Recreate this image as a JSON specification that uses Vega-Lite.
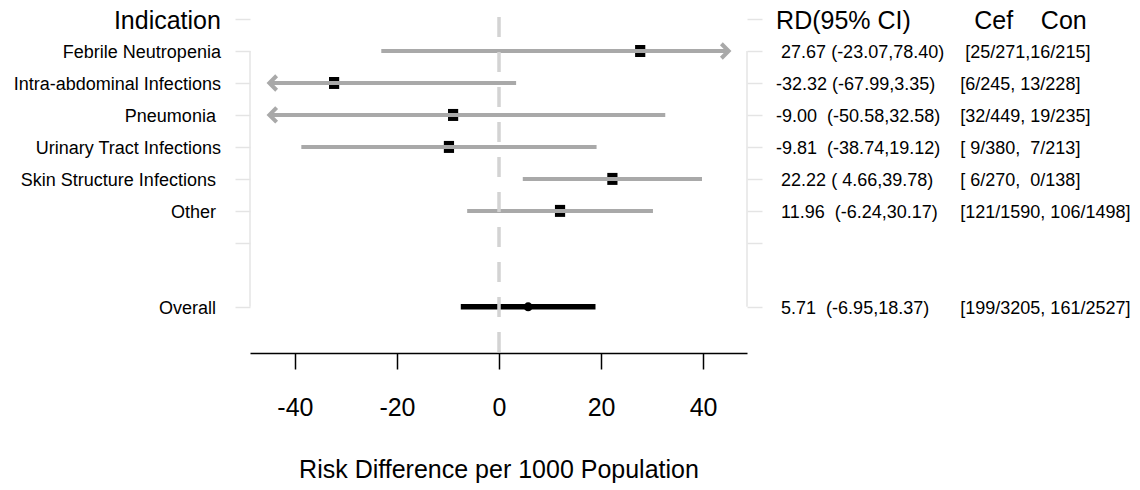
{
  "$schema": "https://vega.github.io/schema/vega-lite/v6.json",
  "width": 497,
  "height": 336,
  "autosize": {"type": "none"},
  "padding": {"left": 250, "top": 17, "right": 393, "bottom": 137},
  "background": "white",
  "config": {
    "view": {"stroke": null},
    "font": "Liberation Sans",
    "text": {"font": "Liberation Sans", "color": "black", "dy": 2}
  },
  "datasets": {
    "rows": [
      {"row": 1, "label": "Indication", "rd": null, "lo": null, "hi": null, "rdText": "RD(95% CI)", "counts": "\u200b\u00a0\u00a0Cef\u00a0\u00a0\u00a0\u00a0Con"},
      {"row": 2, "label": "Febrile Neutropenia", "rd": 27.67, "lo": -23.07, "hi": 78.40, "rdText": "\u200b\u00a027.67 (-23.07,78.40)", "counts": "\u200b\u00a0[25/271,16/215]"},
      {"row": 3, "label": "Intra-abdominal Infections", "rd": -32.32, "lo": -67.99, "hi": 3.35, "rdText": "-32.32 (-67.99,3.35)", "counts": "[6/245, 13/228]"},
      {"row": 4, "label": "Pneumonia\u00a0\u200b", "rd": -9.00, "lo": -50.58, "hi": 32.58, "rdText": "-9.00\u00a0\u00a0(-50.58,32.58)", "counts": "[32/449, 19/235]"},
      {"row": 5, "label": "Urinary Tract Infections", "rd": -9.81, "lo": -38.74, "hi": 19.12, "rdText": "-9.81\u00a0\u00a0(-38.74,19.12)", "counts": "[\u00a09/380,\u00a0\u00a07/213]"},
      {"row": 6, "label": "Skin Structure Infections\u00a0\u200b", "rd": 22.22, "lo": 4.66, "hi": 39.78, "rdText": "\u200b\u00a022.22 (\u00a04.66,39.78)", "counts": "[\u00a06/270,\u00a0\u00a00/138]"},
      {"row": 7, "label": "Other\u00a0\u200b", "rd": 11.96, "lo": -6.24, "hi": 30.17, "rdText": "\u200b\u00a011.96\u00a0\u00a0(-6.24,30.17)", "counts": "[121/1590, 106/1498]"},
      {"row": 10, "label": "Overall\u00a0\u200b", "rd": 5.71, "lo": -6.95, "hi": 18.37, "rdText": "\u200b\u00a05.71\u00a0\u00a0(-6.95,18.37)", "counts": "[199/3205, 161/2527]"}
    ]
  },
  "layer": [
    {
      "data": {"name": "rows"},
      "layer": [
        {
          "transform": [{"filter": "datum.rd != null && datum.row < 10"}],
          "mark": {"type": "point", "shape": "M-0.85,-1H0.85V1H-0.85Z", "filled": true, "color": "black", "opacity": 1, "size": 144},
          "encoding": {
            "x": {"field": "rd", "type": "quantitative", "scale": {"domain": [-48.8, 48.6], "nice": false, "zero": false},
              "axis": {"values": [-40, -20, 0, 20, 40], "labelExpr": "datum.value < 0 ? '-' + abs(datum.value) : '' + datum.value", "domainColor": "black", "domainWidth": 1.5, "tickColor": "black", "tickWidth": 1.5, "tickSize": 16, "labelFont": "Liberation Sans", "labelFontSize": 25, "labelPadding": 26, "labelColor": "black", "grid": false, "titleFont": "Liberation Sans", "titleFontSize": 25, "titleFontWeight": "normal", "titleColor": "black", "titlePadding": 37},
              "title": "Risk Difference per 1000 Population"},
            "y": {"field": "row", "type": "quantitative", "scale": {"domain": [0.937, 11.444], "reverse": true, "nice": false, "zero": false},
              "axis": {"orient": "left", "values": [1, 2, 3, 4, 5, 6, 7, 8, 10], "labels": false, "domain": false, "tickSize": 15, "tickColor": "#e4e4e4", "tickWidth": 1.5, "grid": false},
              "title": null}
          }
        },
        {
          "transform": [
            {"filter": "datum.rd != null && datum.row < 10"},
            {"calculate": "max(datum.lo, -45)", "as": "loShown"},
            {"calculate": "min(datum.hi, 45)", "as": "hiShown"}
          ],
          "mark": {"type": "rule", "color": "#a9a9a9", "strokeWidth": 4, "strokeCap": "butt"},
          "encoding": {
            "x": {"field": "loShown", "type": "quantitative", "title": "Risk Difference per 1000 Population"},
            "x2": {"field": "hiShown"},
            "y": {"field": "row", "type": "quantitative", "title": null}
          }
        },
        {
          "transform": [{"filter": "datum.rd != null && datum.hi > 45"}],
          "mark": {"type": "point", "shape": "M-1,-1L0,0L-1,1", "filled": false, "color": "#a9a9a9", "strokeWidth": 4, "opacity": 1, "size": 210},
          "encoding": {
            "x": {"datum": 45},
            "y": {"field": "row", "type": "quantitative", "title": null}
          }
        },
        {
          "transform": [{"filter": "datum.rd != null && datum.lo < -45"}],
          "mark": {"type": "point", "shape": "M1,-1L0,0L1,1", "filled": false, "color": "#a9a9a9", "strokeWidth": 4, "opacity": 1, "size": 210},
          "encoding": {
            "x": {"datum": -45},
            "y": {"field": "row", "type": "quantitative", "title": null}
          }
        },
        {
          "transform": [{"filter": "datum.row == 10"}],
          "mark": {"type": "rule", "color": "black", "strokeWidth": 5.5, "strokeCap": "square"},
          "encoding": {
            "x": {"field": "lo", "type": "quantitative", "title": "Risk Difference per 1000 Population"},
            "x2": {"field": "hi"},
            "y": {"field": "row", "type": "quantitative", "title": null}
          }
        },
        {
          "transform": [{"filter": "datum.row == 10"}],
          "mark": {"type": "point", "shape": "circle", "filled": true, "color": "black", "opacity": 1, "size": 80},
          "encoding": {
            "x": {"field": "rd", "type": "quantitative", "title": "Risk Difference per 1000 Population"},
            "y": {"field": "row", "type": "quantitative", "title": null}
          }
        },
        {
          "mark": {"type": "text", "align": "right", "baseline": "middle"},
          "encoding": {
            "x": {"datum": -54.5},
            "y": {"field": "row", "type": "quantitative", "title": null},
            "text": {"field": "label"},
            "size": {"condition": {"test": "datum.row == 1", "value": 25}, "value": 18}
          }
        },
        {
          "mark": {"type": "text", "align": "left", "baseline": "middle"},
          "encoding": {
            "x": {"datum": 54.3},
            "y": {"field": "row", "type": "quantitative", "title": null},
            "text": {"field": "rdText"},
            "size": {"condition": {"test": "datum.row == 1", "value": 25}, "value": 18}
          }
        },
        {
          "mark": {"type": "text", "align": "left", "baseline": "middle"},
          "encoding": {
            "x": {"datum": 90.4},
            "y": {"field": "row", "type": "quantitative", "title": null},
            "text": {"field": "counts"},
            "size": {"condition": {"test": "datum.row == 1", "value": 25}, "value": 18}
          }
        },
        {
          "data": {"values": [{"side": "left", "edge": -48.8}, {"side": "right", "edge": 48.6}]},
          "mark": {"type": "rule", "color": "#e4e4e4", "strokeWidth": 1.5},
          "encoding": {
            "x": {"field": "edge", "type": "quantitative", "title": "Risk Difference per 1000 Population"},
            "y": {"datum": 2},
            "y2": {"datum": 10}
          }
        },
        {
          "data": {"values": [{"ref": 0}]},
          "mark": {"type": "rule", "color": "#d3d3d3", "strokeWidth": 3.5, "strokeDash": [20, 15]},
          "encoding": {
            "x": {"field": "ref", "type": "quantitative", "title": "Risk Difference per 1000 Population"}
          }
        }
      ]
    },
    {
      "data": {"name": "rows"},
      "mark": {"type": "point", "opacity": 0},
      "encoding": {
        "x": {"datum": 0},
        "y": {"field": "row", "type": "quantitative",
          "axis": {"orient": "right", "values": [1, 2, 3, 4, 5, 6, 7, 8, 10], "labels": false, "domain": false, "tickSize": 15, "tickColor": "#e4e4e4", "tickWidth": 1.5, "grid": false},
          "title": null}
      }
    }
  ],
  "resolve": {"axis": {"y": "independent"}}
}
